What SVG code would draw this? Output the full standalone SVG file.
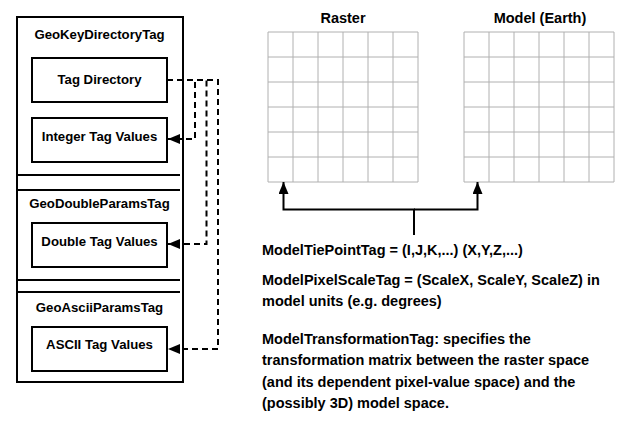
<svg xmlns="http://www.w3.org/2000/svg" width="625" height="427" viewBox="0 0 625 427">
<style>
.box{fill:#fff;stroke:#000;stroke-width:2}
.sep{stroke:#000;stroke-width:2}
.lt{font-family:"Liberation Sans",Arial,sans-serif;font-weight:bold;font-size:13.2px;fill:#000;text-anchor:middle}
.rt{font-family:"Liberation Sans",Arial,sans-serif;font-weight:bold;font-size:14.5px;fill:#000}
.grid{stroke:#b0b0b0;stroke-width:1;fill:none}
.dash{fill:none;stroke:#000;stroke-width:2;stroke-dasharray:6 4}
.solid{fill:none;stroke:#000;stroke-width:2}
</style>
<defs>
<marker id="ah" viewBox="0 0 12 10" refX="12" refY="5" markerWidth="12" markerHeight="10" markerUnits="userSpaceOnUse" orient="auto">
<path d="M0,0 L12,5 L0,10 Z" fill="#000"/>
</marker>
</defs>
<rect width="625" height="427" fill="#fff"/>
<g id="outer">
<rect class="box" x="17" y="17" width="166" height="365"/>
<line class="sep" x1="17" y1="175" x2="180" y2="175"/>
<line class="sep" x1="17" y1="190" x2="180" y2="190"/>
<line class="sep" x1="17" y1="280" x2="180" y2="280"/>
<line class="sep" x1="17" y1="292" x2="180" y2="292"/>
</g>
<g id="geokey-title"><text class="lt" x="99.5" y="39.3">GeoKeyDirectoryTag</text></g>
<g id="tag-directory"><rect class="box" x="32" y="58" width="135" height="44"/><text class="lt" x="99.5" y="84">Tag Directory</text></g>
<g id="integer-values"><rect class="box" x="32" y="118" width="135" height="44"/><text class="lt" x="99.5" y="141">Integer Tag Values</text></g>
<g id="geodouble-title"><text class="lt" x="99.5" y="207.5">GeoDoubleParamsTag</text></g>
<g id="double-values"><rect class="box" x="32" y="223" width="135" height="44"/><text class="lt" x="99.5" y="246">Double Tag Values</text></g>
<g id="geoascii-title"><text class="lt" x="99.5" y="312">GeoAsciiParamsTag</text></g>
<g id="ascii-values"><rect class="box" x="32" y="327" width="135" height="44"/><text class="lt" x="99.5" y="349">ASCII Tag Values</text></g>
<g id="raster">
<text class="rt" x="343" y="22.5" text-anchor="middle">Raster</text>
<path class="grid" d="M268,32H418M268,57H418M268,82H418M268,107H418M268,132H418M268,157H418M268,182H418M268,32V182M293,32V182M318,32V182M343,32V182M368,32V182M393,32V182M418,32V182"/>
</g>
<g id="model">
<text class="rt" x="540" y="22.5" text-anchor="middle">Model (Earth)</text>
<path class="grid" d="M464,32H614M464,57H614M464,82H614M464,107H614M464,132H614M464,157H614M464,182H614M464,32V182M489,32V182M514,32V182M539,32V182M564,32V182M589,32V182M614,32V182"/>
</g>
<g id="connectors">
<path class="dash" d="M167,80H195V139H168" marker-end="url(#ah)"/>
<path class="dash" d="M167,80H206.5V244H168" marker-end="url(#ah)"/>
<path class="dash" d="M167,80H218V349H168" marker-end="url(#ah)"/>
<path class="solid" d="M414,235V209.5H283.5V182" marker-end="url(#ah)"/>
<path class="solid" d="M414,209.5H477.5V182" marker-end="url(#ah)"/>
</g>
<g id="tiepoint"><text class="rt" x="262" y="254.5">ModelTiePointTag = (I,J,K,...) (X,Y,Z,...)</text></g>
<g id="pixelscale"><text class="rt" x="262" y="285">ModelPixelScaleTag = (ScaleX, ScaleY, ScaleZ) in</text><text class="rt" x="262" y="306">model units (e.g. degrees)</text></g>
<g id="transformation"><text class="rt" x="262" y="344">ModelTransformationTag: specifies the</text><text class="rt" x="262" y="365.3">transformation matrix between the raster space</text><text class="rt" x="262" y="386.6">(and its dependent pixel-value space) and the</text><text class="rt" x="262" y="408">(possibly 3D) model space.</text></g>
</svg>
